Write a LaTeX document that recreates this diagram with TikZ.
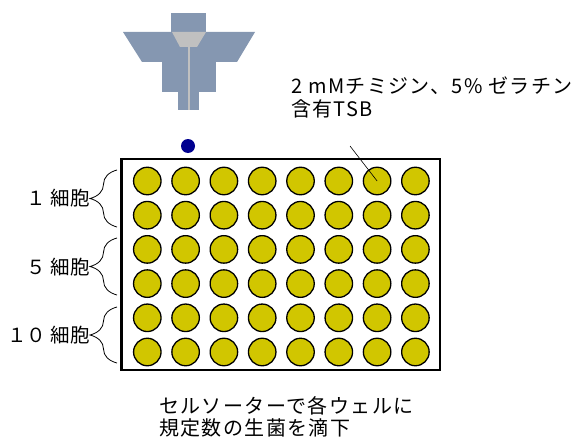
\documentclass[tikz,border=0pt]{standalone}
\usepackage{fontspec}
\newfontfamily\jpfont{Noto Sans CJK JP}
\newfontfamily\jpwide[LetterSpace=7]{Noto Sans CJK JP}
\usetikzlibrary{decorations,decorations.pathreplacing}
\definecolor{nozzle}{HTML}{8597B1}
\definecolor{nozzlecore}{HTML}{C0C0C0}
\definecolor{droplet}{HTML}{000090}
\definecolor{wellfill}{HTML}{D1C600}
\tikzset{
	well/.style = {circle, draw, line width = 1.3pt, fill = wellfill, minimum size = 27.5pt, inner sep = 0pt},
	jptext/.style = {font = \jpfont\fontsize{19.5}{23}\selectfont, inner sep = 0pt},
	notetext/.style = {font = \jpwide\fontsize{20}{22.5}\selectfont, inner sep = 0pt},
	cellbrace/.style = {decorate, decoration = {brace, amplitude = 27pt}, line width = .8pt}
}

\begin{document}
\begin{tikzpicture}[x = 1pt, y = -1pt]
	\useasboundingbox (0,0) rectangle (585,441);
	% sorter nozzle
	\fill[nozzle] (171,13) rectangle (206,32);
	\fill[nozzle] (123,32) -- (255,32) -- (237,62) -- (142,62) -- cycle;
	\fill[nozzle] (162,62) rectangle (216,92);
	\fill[nozzle] (178,92) rectangle (199,110);
	\fill[nozzlecore] (172,32) -- (206,32) -- (197,47) -- (180,47) -- cycle;
	\draw[nozzlecore, line width = 2pt] (188.5,47) -- (188.5,110);
	\fill[droplet] (188,146) circle (7);
	% plate with 6 x 8 wells
	\draw[line width = 2.6pt] (121.7,159) rectangle (440,370);
	\foreach \r in {0,...,5}
		\foreach \c in {0,...,7}
			\node[well] (w-\r-\c) at (147.3+38.3*\c, 181+34.2*\r) {};
	% braces and cell numbers
	\draw[cellbrace] (117,227) -- (117,170);
	\draw[cellbrace] (117,295) -- (117,238);
	\draw[cellbrace] (117,363) -- (117,307);
	\node[jptext, anchor = east] (n-1) at (90,198) {１ 細胞};
	\node[jptext, anchor = east] (n-5) at (90,267) {５ 細胞};
	\node[jptext, anchor = east] (n-10) at (90,335) {１０ 細胞};
	% medium note
	\node[notetext, anchor = north west, align = left] (medium) at (291,77) {2 mMチミジン、5\% ゼラチン\\含有TSB};
	\coordinate (lead) at (350,146);
	\draw[line width = .6pt] (lead) -- (w-0-6.center);
	\node[notetext, anchor = north west, align = left] (note) at (159,396) {セルソーターで各ウェルに\\規定数の生菌を滴下};
\end{tikzpicture}
\end{document}
